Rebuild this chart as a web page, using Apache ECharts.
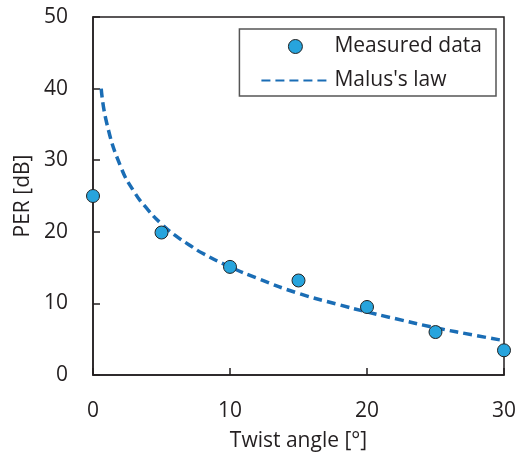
<!DOCTYPE html>
<html><head><meta charset="utf-8">
<script src="https://cdn.jsdelivr.net/npm/echarts@6/dist/echarts.min.js"></script>
<style>html,body{margin:0;padding:0;background:#fff}#c{width:523px;height:452px}</style>
</head><body><div id="c"></div>
<script>
const measuredX = [0, 5, 10, 15, 20, 25, 30];
const measuredY = [25.0, 19.9, 15.1, 13.2, 9.5, 6.0, 3.45];
const malusX = [0.6, 1, 2, 3, 4, 5, 6, 7, 8, 10, 12, 15, 18, 20, 22, 25, 28, 30];
const malusY = [40.0, 35.2, 29.2, 25.6, 23.1, 21.1, 19.5, 18.2, 17.0, 15.1, 13.5, 11.4, 9.8, 8.8, 7.9, 6.6, 5.5, 4.8];
const xTicks = [0, 10, 20, 30];
const yTicks = [0, 10, 20, 30, 40, 50];

const font = '"Open Sans", "Noto Sans", sans-serif';
const ink = '#231f20';
const chart = echarts.init(document.getElementById('c'));
chart.setOption({
  animation: false,
  grid: {left: 93, top: 17, right: 19, bottom: 77, outerBoundsMode: 'none', containLabel: false,
    show: true, borderColor: ink, borderWidth: 1.5, backgroundColor: 'transparent'},
  legend: {
    right: 27, top: 29, orient: 'vertical',
    borderColor: '#555', borderWidth: 1.5, padding: [7, 14, 5, 21],
    itemGap: 13, itemWidth: 68, itemHeight: 14,
    textStyle: {fontFamily: font, fontSize: 21, color: ink},
    data: [
      {name: 'Measured data', itemStyle: {borderWidth: 1, borderColor: '#222'}},
      {name: "Malus's law", itemStyle: {opacity: 0}}
    ]
  },
  xAxis: {
    type: 'value', min: 0, max: 30, interval: 10,
    name: 'Twist angle [°]', nameLocation: 'middle', nameGap: 56,
    nameTextStyle: {fontFamily: font, fontSize: 21, color: ink},
    axisLine: {lineStyle: {color: ink, width: 1.5}},
    axisTick: {inside: true, length: 7, lineStyle: {color: ink, width: 1.5}},
    axisLabel: {fontFamily: font, fontSize: 21, color: ink, margin: 26,
      formatter: v => xTicks.includes(v) ? String(v) : ''},
    splitLine: {show: false}
  },
  yAxis: {
    type: 'value', min: 0, max: 50, interval: 10,
    name: 'PER [dB]', nameLocation: 'middle', nameGap: 58, nameRotate: 90,
    nameTextStyle: {fontFamily: font, fontSize: 21, color: ink},
    axisLine: {lineStyle: {color: ink, width: 1.5}},
    axisTick: {inside: true, length: 7, lineStyle: {color: ink, width: 1.5}},
    axisLabel: {fontFamily: font, fontSize: 21, color: ink, margin: 25,
      formatter: v => yTicks.includes(v) ? String(v) : ''},
    splitLine: {show: false}
  },
  series: [
    {
      name: "Malus's law", type: 'line', smooth: true, symbol: 'none',
      data: malusX.map((x, i) => [x, malusY[i]]),
      lineStyle: {color: '#1a6db5', width: 3.5, type: [9, 5]},
      itemStyle: {color: '#1a6db5'},
      z: 2
    },
    {
      name: 'Measured data', type: 'scatter', symbol: 'circle', symbolSize: 13,
      data: measuredX.map((x, i) => [x, measuredY[i]]),
      itemStyle: {color: '#27a4dd', borderColor: '#222', borderWidth: 1, opacity: 1},
      z: 3
    }
  ]
});
</script></body></html>
